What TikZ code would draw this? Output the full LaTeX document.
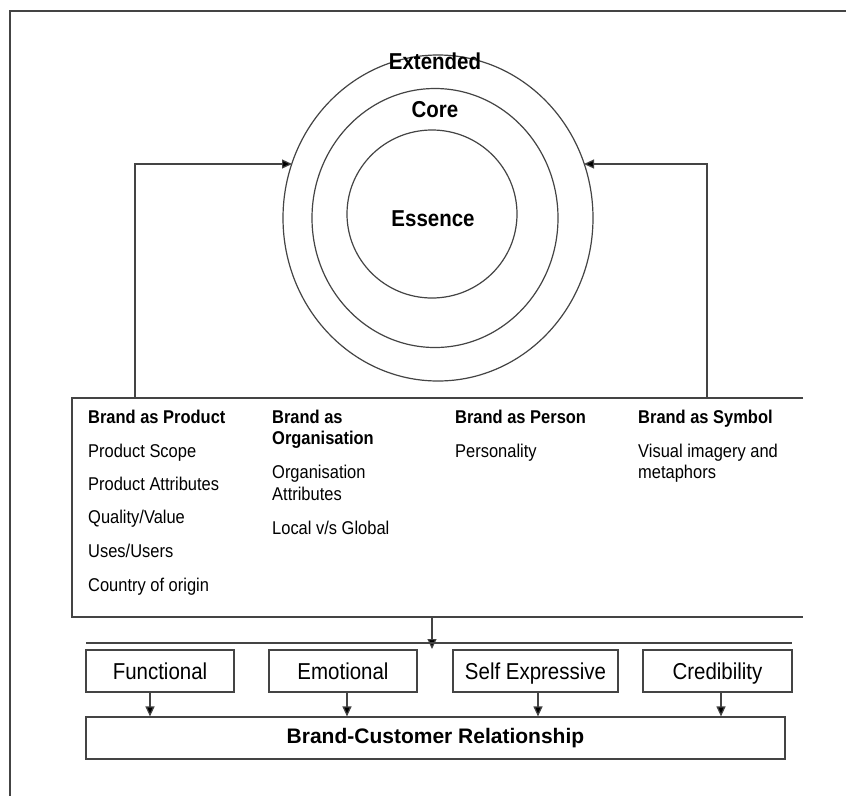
\documentclass[tikz,border=0pt]{standalone}
\usepackage{fontspec}
\setmainfont{Liberation Sans}[FakeStretch=0.89]
\newfontfamily\plainsans{Liberation Sans}
\usetikzlibrary{arrows.meta,shapes.geometric}
\definecolor{ln}{HTML}{444444}
\begin{document}
\begin{tikzpicture}[x=1pt,y=-1pt,
  lin/.style={draw=ln, line width=1.2pt},
  arr/.style={lin, -{Triangle[length=10pt,width=9pt,fill=black]}},
  ring/.style={ellipse, lin, inner sep=0pt, outer sep=0pt},
  txt/.style={anchor=base west, inner sep=0pt, font=\fontsize{18.5}{21}\selectfont},
  hd/.style={anchor=base west, inner sep=0pt, font=\bfseries\fontsize{18.5}{21}\selectfont},
  clab/.style={anchor=base, inner sep=0pt, font=\bfseries\fontsize{23}{26}\selectfont},
  sbox/.style={lin, minimum height=42pt, inner sep=0pt, text height=18pt, text depth=2pt,
               font=\fontsize{23}{26}\selectfont}]
\useasboundingbox (0,0) rectangle (846,796);
\fill[white] (0,0) rectangle (846,796);
% frame
\coordinate (fTR) at (846,11);
\coordinate (fTL) at (10,11);
\coordinate (fBL) at (10,796);
\draw[lin] (fTR) -- (fTL) -- (fBL);
% rings
\node[ring, minimum width=310pt, minimum height=326pt] (outer) at (438,218) {};
\node[ring, minimum width=246pt, minimum height=259pt] (middle) at (435,218) {};
\node[ring, minimum width=170pt, minimum height=168pt] (inner) at (432,214) {};
\node[clab] (lext) at (435,69) {Extended};
\node[clab] (lcore) at (435,117) {Core};
\node[clab] (less) at (433,226) {Essence};
% main box (open on the right)
\node[minimum width=731pt, minimum height=219pt, inner sep=0pt, outer sep=0pt] (mainbox) at (437.5,507.5) {};
\draw[lin] (mainbox.north east) -- (mainbox.north west) -- (mainbox.south west) -- (mainbox.south east);
% feedback arrows
\coordinate (pL) at (135,398);
\coordinate (tipL) at (292,164);
\coordinate (pR) at (707,398);
\coordinate (tipR) at (584,164);
\draw[arr] (pL) |- (tipL);
\draw[arr] (pR) |- (tipR);
% column texts
\node[hd] (h1) at (88,423) {Brand as Product};
\node[txt] (t11) at (88,457) {Product Scope};
\node[txt] (t12) at (88,490) {Product Attributes};
\node[txt] (t13) at (88,523) {Quality/Value};
\node[txt] (t14) at (88,557) {Uses/Users};
\node[txt] (t15) at (88,591) {Country of origin};
\node[hd] (h2a) at (272,423) {Brand as};
\node[hd] (h2b) at (272,444) {Organisation};
\node[txt] (t21a) at (272,478) {Organisation};
\node[txt] (t21b) at (272,500) {Attributes};
\node[txt] (t22) at (272,534) {Local v/s Global};
\node[hd] (h3) at (455,423) {Brand as Person};
\node[txt] (t31) at (455,457) {Personality};
\node[hd] (h4) at (638,423) {Brand as Symbol};
\node[txt] (t41a) at (638,457) {Visual imagery and};
\node[txt] (t41b) at (638,478) {metaphors};
% bus line and arrow
\coordinate (mb) at (432,617);
\coordinate (mtip) at (432,649);
\draw[arr] (mb) -- (mtip);
\coordinate (busL) at (86,643);
\coordinate (busR) at (792,643);
\draw[lin] (busL) -- (busR);
% value boxes
\node[sbox, minimum width=148pt] (fun) at (160,671) {Functional};
\node[sbox, minimum width=148pt] (emo) at (343,671) {Emotional};
\node[sbox, minimum width=165pt] (self) at (535.5,671) {Self Expressive};
\node[sbox, minimum width=149pt] (cred) at (717.5,671) {Credibility};
\node[lin, minimum width=699pt, minimum height=42pt, inner sep=0pt,
      font=\plainsans\bfseries\fontsize{21}{24}\selectfont] (rel) at (435.5,738) {Brand-Customer Relationship};
\draw[arr] ([xshift=-10pt]fun.south) -- ([xshift=-10pt]fun.south |- rel.north);
\draw[arr] ([xshift=4pt]emo.south) -- ([xshift=4pt]emo.south |- rel.north);
\draw[arr] ([xshift=2.5pt]self.south) -- ([xshift=2.5pt]self.south |- rel.north);
\draw[arr] ([xshift=3.5pt]cred.south) -- ([xshift=3.5pt]cred.south |- rel.north);
\end{tikzpicture}
\end{document}
